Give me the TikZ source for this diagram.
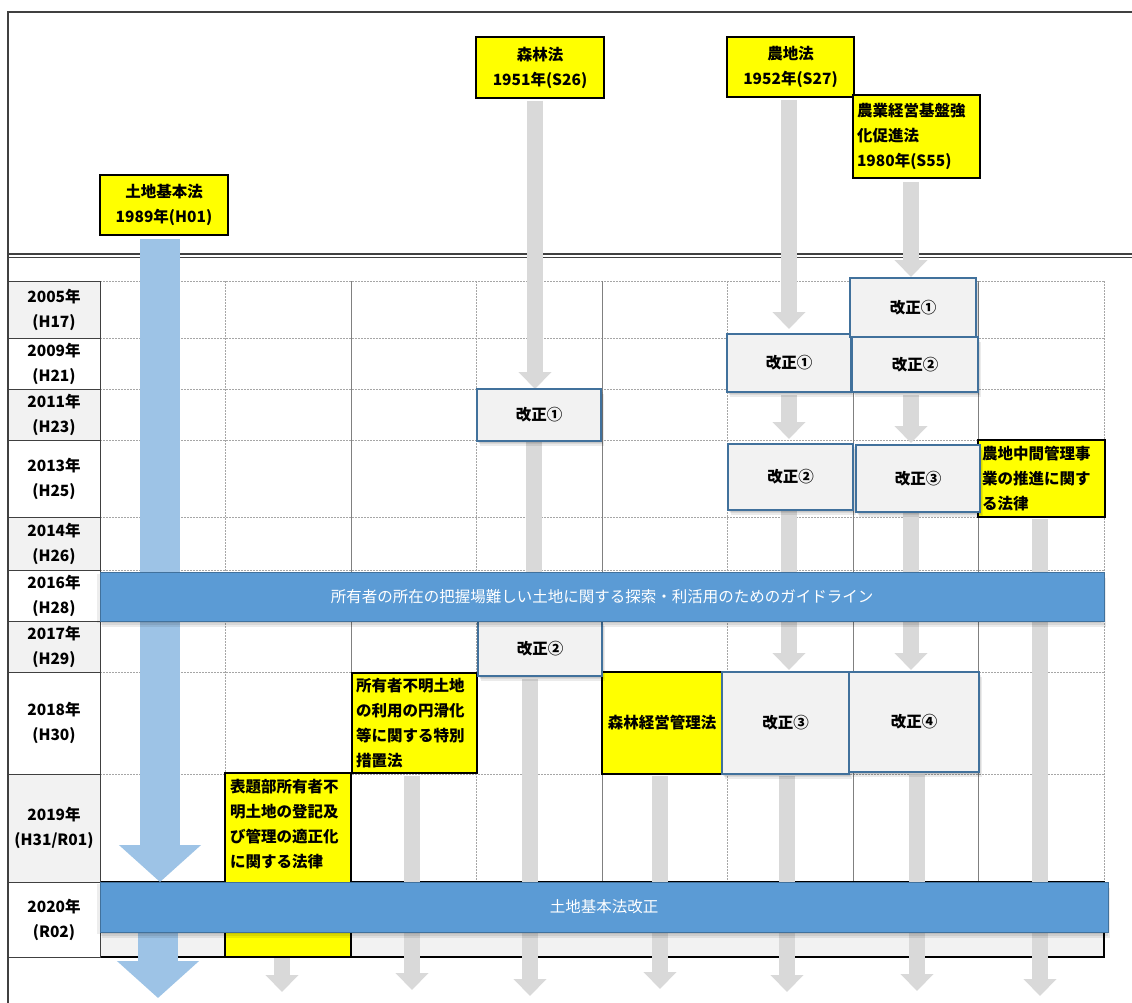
\documentclass[tikz,border=0pt]{standalone}
\usepackage{fontspec}
\setmainfont{Noto Sans CJK JP}
\usetikzlibrary{arrows.meta,shadows}
\definecolor{frameline}{HTML}{404040}
\definecolor{gridline}{HTML}{A6A6A6}
\definecolor{lawyellow}{HTML}{FFFF00}
\definecolor{revfill}{HTML}{F2F2F2}
\definecolor{revedge}{HTML}{41719C}
\definecolor{bandfill}{HTML}{5B9BD5}
\definecolor{arrgray}{HTML}{D9D9D9}
\definecolor{arrblue}{HTML}{9DC3E6}
\definecolor{cellgray}{HTML}{F2F2F2}
\pgfdeclarelayer{grid}
\pgfdeclarelayer{flow}
\pgfsetlayers{grid,flow,main}

\begin{document}
\begin{tikzpicture}[x=1pt,y=-1pt,
  every node/.style={font=\fontsize{15.5pt}{25pt}\selectfont\bfseries, inner sep=0pt, outer sep=0pt},
  softshadow/.style={
    general shadow={fill=black,opacity=0.08,shadow xshift=1pt,shadow yshift=-1.5pt},
    general shadow={fill=black,opacity=0.08,shadow xshift=2pt,shadow yshift=-3pt},
    general shadow={fill=black,opacity=0.08,shadow xshift=3pt,shadow yshift=-4.5pt}},
  bandshadow/.style={
    general shadow={fill=black,opacity=0.07,shadow xshift=-3pt,shadow yshift=-2pt},
    general shadow={fill=black,opacity=0.08,shadow xshift=0pt,shadow yshift=-4pt},
    general shadow={fill=black,opacity=0.08,shadow xshift=2pt,shadow yshift=-6pt}},
  lawbox/.style={draw=black, line width=2.5pt, fill=lawyellow, align=center},
  lawtext/.style={draw=black, line width=2.5pt, fill=lawyellow, align=left, inner xsep=4pt, text width=#1},
  revbox/.style={draw=revedge, line width=2pt, fill=revfill, softshadow},
  band/.style={draw=revedge, line width=0.8pt, fill=bandfill, text=white,
    font=\fontsize{15.5pt}{20pt}\selectfont, bandshadow},
  rowlab/.style={draw=frameline, line width=1pt, minimum width=92pt, align=center},
  grayarr/.style={draw=arrgray, line width=15.5pt, -{Triangle[width=32pt,length=17pt]}},
  bluearr/.style={draw=arrblue, line width=40pt, -{Triangle[width=80pt,length=37pt]}},
  gridh/.style={draw=gridline, line width=0.8pt, dash pattern=on 2pt off 1pt},
  gridv/.style={draw=gridline, line width=0.8pt, dash pattern=on 2pt off 1pt},
  gridvs/.style={draw=gray, line width=0.9pt}
]
\useasboundingbox (0,0) rectangle (1132,1003);

% ---- page, frame, header rule and table grid ----
\begin{pgfonlayer}{grid}
  \fill[white] (0,0) rectangle (1132,1003);
  \draw[frameline, line width=1.3pt] (8,1003) -- (8,12) -- (1132,12);
  \draw[frameline, line width=1.2pt] (8,254) -- (1132,254) (8,257.5) -- (1132,257.5);
  \foreach \yy in {281,338,389,440,517,570,621,672,774,882}
    \draw[gridh] (100,\yy) -- (1104,\yy);
  \foreach \xx in {225.5,476.5,727.5,1104}
    \draw[gridv] (\xx,281) -- (\xx,882);
  \foreach \xx in {351,602,853,978.5}
    \draw[gridvs] (\xx,281) -- (\xx,882);
  \draw[black, line width=1.8pt, fill=cellgray] (100,882) rectangle (1104,957);
  \foreach \ya/\yb/\fc/\yr/\er in {281/338/cellgray/2005/H17, 338/389/white/2009/H21,
      389/440/cellgray/2011/H23, 440/517/white/2013/H25, 517/570/cellgray/2014/H26,
      570/621/white/2016/H28, 621/672/cellgray/2017/H29, 672/774/white/2018/H30,
      774/882/cellgray/2019/{H31/R01}, 882/957/white/2020/R02}
    \node[rowlab, fill=\fc, minimum height={\yb-\ya}] (row\yr) at (54,{(\ya+\yb)/2}) {{\yr}年\\({\er})};
\end{pgfonlayer}

% ---- laws ----
\node[lawbox, minimum width=128pt, minimum height=60pt] (kihon) at (164,205) {土地基本法\\1989年(H01)};
\node[lawbox, minimum width=128pt, minimum height=61pt] (shinrin) at (540,67.5) {森林法\\1951年(S26)};
\node[lawbox, minimum width=127pt, minimum height=60pt] (nochi) at (790.5,67) {農地法\\1952年(S27)};
\node[lawtext=119pt, minimum height=83pt] (kiban) at (916.5,136.5) {農業経営基盤強\\化促進法\\1980年(S55)};
\node[lawtext=119pt, minimum height=77pt] (chukan) at (1041.5,478.5) {農地中間管理事\\業の推進に関す\\る法律};
\node[lawbox, minimum width=120pt, minimum height=102pt] (keiei) at (662,723) {森林経営管理法};
\node[lawtext=117pt, minimum height=100pt] (tokusoku) at (414.5,723) {所有者不明土地\\の利用の円滑化\\等に関する特別\\措置法};
\node[lawbox, minimum width=126pt, minimum height=184pt] (hyodai) at (288,865) {};
\node[anchor=north west, align=left] (hyodaitext) at ([xshift=5pt,yshift=-6pt]hyodai.north west)
  {表題部所有者不\\明土地の登記及\\び管理の適正化\\に関する法律};

% ---- amendments ----
\node[revbox, minimum width=124pt, minimum height=52pt] (s1) at (539,415) {改正①};
\node[revbox, minimum width=124pt, minimum height=55pt] (s2) at (540,648.5) {改正②};
\node[revbox, minimum width=124pt, minimum height=58pt] (n1) at (789,363) {改正①};
\node[revbox, minimum width=125pt, minimum height=66pt] (n2) at (790.5,477) {改正②};
\node[revbox, minimum width=127pt, minimum height=102pt] (n3) at (785.5,723) {改正③};
\node[revbox, minimum width=126pt, minimum height=59pt] (b1) at (913,307.5) {改正①};
\node[revbox, minimum width=126pt, minimum height=55pt] (b2) at (915,364.5) {改正②};
\node[revbox, minimum width=124pt, minimum height=67pt] (b3) at (918,478.5) {改正③};
\node[revbox, minimum width=130pt, minimum height=100pt] (b4) at (914,722) {改正④};

% ---- cross-cutting measures ----
\node[band, minimum width=1004pt, minimum height=49pt] (band1) at (602,596.5)
  {所有者の所在の把握場難しい土地に関する探索・利活用のためのガイドライン};
\node[band, minimum width=1008pt, minimum height=50pt] (band2) at (604,907) {土地基本法改正};

% ---- flow arrows ----
\coordinate (kihonend) at (158,998);
\coordinate (e2) at (282,992);
\coordinate (e3) at (412,990);
\coordinate (e4) at (530,996);
\coordinate (e5) at (660,989);
\coordinate (e6) at (787,992);
\coordinate (e7) at (917,991);
\coordinate (e8) at (1040,996);
\begin{pgfonlayer}{flow}
  \draw[bluearr, shorten <=4pt] ([xshift=-4pt]kihon.south) -- ([xshift=-4pt]kihon.south |- band2.north);
  \draw[bluearr] (band2.south -| kihonend) -- (kihonend);

  \draw[grayarr, shorten <=3pt] ([xshift=-5pt]shinrin.south) -- ([xshift=-5pt]shinrin.south |- s1.north);
  \draw[grayarr, shorten <=3pt, shorten >=5pt] ([xshift=-1.5pt]nochi.south) -- ([xshift=-1.5pt]nochi.south |- n1.north);
  \draw[grayarr, shorten <=4pt, shorten >=1pt] ([xshift=-5.5pt]kiban.south) -- ([xshift=-5.5pt]kiban.south |- b1.north);
  \draw[grayarr, shorten <=3pt, shorten >=5pt] (n1.south) -- (n1.south |- n2.north);
  \draw[grayarr, shorten <=3pt, shorten >=2pt] ([xshift=-4pt]b2.south) -- ([xshift=-4pt]b2.south |- b3.north);
  \draw[grayarr] ([xshift=-5pt]s1.south) -- ([xshift=-5pt]s1.south |- s2.north);
  \draw[grayarr, shorten >=2pt] ([xshift=-1.5pt]n2.south) -- ([xshift=-1.5pt]n2.south |- n3.north);
  \draw[grayarr, shorten >=2pt] ([xshift=-7pt]b3.south) -- ([xshift=-7pt]b3.south |- b4.north);

  \draw[grayarr] (hyodai.south -| e2) -- (e2);
  \draw[grayarr, shorten <=3pt] (tokusoku.south -| e3) -- (e3);
  \draw[grayarr, shorten <=3pt] (s2.south -| e4) -- (e4);
  \draw[grayarr, shorten <=2pt] (keiei.south -| e5) -- (e5);
  \draw[grayarr, shorten <=2pt] (n3.south -| e6) -- (e6);
  \draw[grayarr, shorten <=2pt] (b4.south -| e7) -- (e7);
  \draw[grayarr, shorten <=2pt] (chukan.south -| e8) -- (e8);
\end{pgfonlayer}
\end{tikzpicture}
\end{document}
